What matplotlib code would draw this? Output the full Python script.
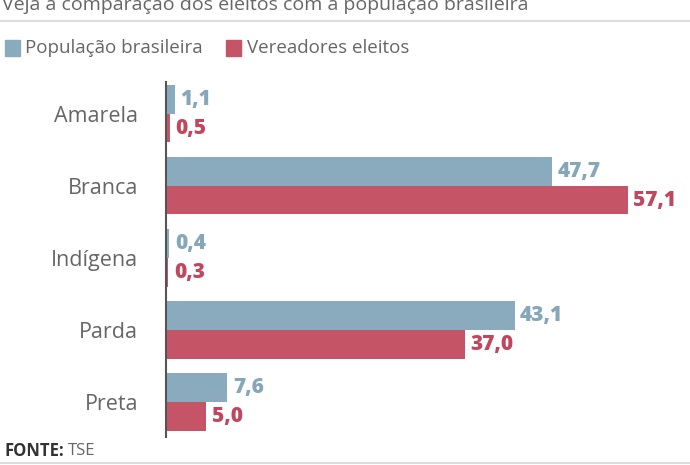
import numpy as np
import matplotlib
matplotlib.use("Agg")
import matplotlib.pyplot as plt
from matplotlib.patches import Rectangle
from matplotlib.lines import Line2D

categories = ["Amarela", "Branca", "Indígena", "Parda", "Preta"]
populacao = [1.1, 47.7, 0.4, 43.1, 7.6]
vereadores = [0.5, 57.1, 0.3, 37.0, 5.0]
series_names = ["População brasileira", "Vereadores eleitos"]

BLUE = "#8aabbd"
RED = "#c55466"
BLUE_TXT = "#86a7b9"
RED_TXT = "#c0485e"
GRAY = "#666666"

plt.rcParams["font.family"] = ["Open Sans", "DejaVu Sans"]

W, H = 690, 465
fig = plt.figure(figsize=(W / 100, H / 100), dpi=100)


def fx(px):
    return px / W


def fy(py):
    return 1 - py / H


ax = fig.add_axes([fx(166), fy(437), fx(690 - 166), fy(82) - fy(437)])
y = np.arange(len(categories))
h = 0.396
ax.barh(y - h / 2, populacao, height=h, color=BLUE)
ax.barh(y + h / 2, vereadores, height=h, color=RED)
ax.set_xlim(0, 64.8)
ax.set_ylim(4.486, -0.444)

fmt = lambda v: f"{v:.1f}".replace(".", ",")
for yi, v in zip(y, populacao):
    ax.annotate(fmt(v), (v, yi - h / 2), xytext=(4, 0), textcoords="offset points",
                va="center", ha="left", fontsize=15, fontweight="heavy", color=BLUE_TXT)
for yi, v in zip(y, vereadores):
    ax.annotate(fmt(v), (v, yi + h / 2), xytext=(4, 0), textcoords="offset points",
                va="center", ha="left", fontsize=15, fontweight="heavy", color=RED_TXT)

for s in ["top", "right", "bottom"]:
    ax.spines[s].set_visible(False)
ax.spines["left"].set_color("#555555")
ax.spines["left"].set_linewidth(1.5)
ax.set_xticks([])
ax.set_yticks(y)
ax.set_yticklabels(categories, fontsize=15.5, color=GRAY)
ax.tick_params(axis="y", length=0, pad=20)

# title (cut off at top, as in the source) and separator
fig.text(fx(2), fy(10), "Veja a comparação dos eleitos com a população brasileira",
         fontsize=14, color=GRAY, va="baseline")
fig.add_artist(Line2D([0, 1], [fy(21), fy(21)], color="#dddddd", lw=1.5))

# legend
fig.add_artist(Rectangle((fx(5), fy(56)), fx(15), fy(40) - fy(56), color=BLUE))
fig.text(fx(25), fy(48), series_names[0], fontsize=13.5, color=GRAY, va="center")
fig.add_artist(Rectangle((fx(226), fy(56)), fx(15), fy(40) - fy(56), color=RED))
fig.text(fx(247), fy(48), series_names[1], fontsize=13.5, color=GRAY, va="center")

# footer
fig.text(fx(5), fy(451), "FONTE:", fontsize=12, fontweight="bold", color="#333333", va="center")
fig.text(fx(68), fy(451), "TSE", fontsize=12, color=GRAY, va="center")
fig.add_artist(Line2D([0, 1], [fy(463), fy(463)], color="#dddddd", lw=1.5))

fig.savefig("out.png", dpi=100)
